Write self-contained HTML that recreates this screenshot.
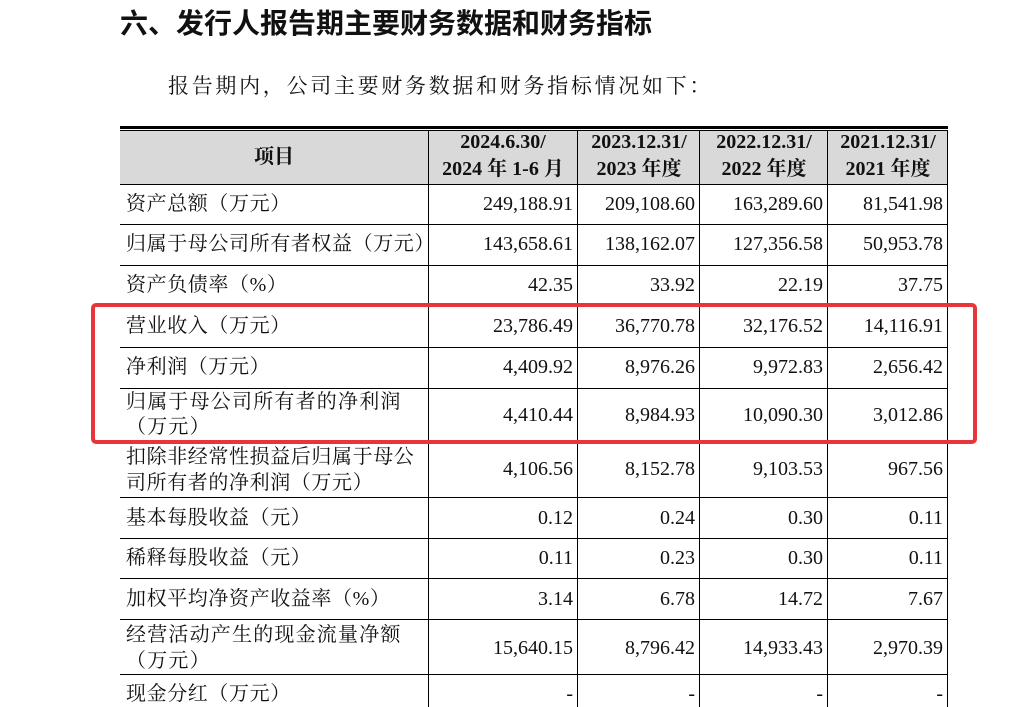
<!DOCTYPE html>
<html><head><meta charset="utf-8"><style>
body{margin:0;width:1023px;height:707px;background:#fff;overflow:hidden;position:relative;font-family:"Liberation Serif","Noto Serif CJK SC",serif;color:#111}
.a{position:absolute;white-space:nowrap}
.h{position:absolute;background:#000}
.v{position:absolute;background:#000;width:1.3px}
.t{font-size:20px;left:126px;line-height:25px;letter-spacing:0.6px}
.n{font-size:20px;line-height:24px;text-align:right}
.hd{font-weight:bold;font-size:20px;line-height:27px;text-align:center}
</style></head><body>
<div class="a" style="left:120px;top:2px;font-size:28px;font-weight:bold;font-family:'Liberation Sans','Noto Sans CJK SC',sans-serif">六、发行人报告期主要财务数据和财务指标</div>
<div class="a" style="left:168px;top:70px;font-size:21px;letter-spacing:2.7px">报告期内，公司主要财务数据和财务指标情况如下：</div>
<div class="a" style="left:120px;top:131px;width:828px;height:53px;background:#d9d9d9"></div>
<div class="h" style="left:120px;top:126px;width:828px;height:3px"></div>
<div class="h" style="left:120px;top:130px;width:828px;height:1.3px"></div>
<div class="h" style="left:120px;top:184px;width:828px;height:1.3px"></div>
<div class="h" style="left:120px;top:224px;width:828px;height:1.3px"></div>
<div class="h" style="left:120px;top:265px;width:828px;height:1.3px"></div>
<div class="h" style="left:120px;top:306px;width:828px;height:1.3px"></div>
<div class="h" style="left:120px;top:347px;width:828px;height:1.3px"></div>
<div class="h" style="left:120px;top:388px;width:828px;height:1.3px"></div>
<div class="h" style="left:120px;top:440px;width:828px;height:1.3px"></div>
<div class="h" style="left:120px;top:497px;width:828px;height:1.3px"></div>
<div class="h" style="left:120px;top:538px;width:828px;height:1.3px"></div>
<div class="h" style="left:120px;top:578px;width:828px;height:1.3px"></div>
<div class="h" style="left:120px;top:619px;width:828px;height:1.3px"></div>
<div class="h" style="left:120px;top:674px;width:828px;height:1.3px"></div>
<div class="v" style="left:428px;top:131px;height:576px"></div>
<div class="v" style="left:577px;top:131px;height:576px"></div>
<div class="v" style="left:699px;top:131px;height:576px"></div>
<div class="v" style="left:827px;top:131px;height:576px"></div>
<div class="v" style="left:947px;top:131px;height:576px"></div>
<div class="a hd" style="left:120px;top:144px;width:308px">项目</div>
<div class="a hd" style="left:428px;top:129px;width:150px">2024.6.30/<br>2024 年 1-6 月</div>
<div class="a hd" style="left:578px;top:129px;width:122px">2023.12.31/<br>2023 年度</div>
<div class="a hd" style="left:700px;top:129px;width:128px">2022.12.31/<br>2022 年度</div>
<div class="a hd" style="left:828px;top:129px;width:120px">2021.12.31/<br>2021 年度</div>

<div class="a t" style="top:192px">资产总额（万元）</div>
<div class="a t" style="top:232px">归属于母公司所有者权益（万元）</div>
<div class="a t" style="top:273px">资产负债率（%）</div>
<div class="a t" style="top:314px">营业收入（万元）</div>
<div class="a t" style="top:355px">净利润（万元）</div>
<div class="a t" style="top:390px;line-height:25px;letter-spacing:1.2px">归属于母公司所有者的净利润<br>（万元）</div>
<div class="a t" style="top:444px;line-height:26px">扣除非经常性损益后归属于母公<br>司所有者的净利润（万元）</div>
<div class="a t" style="top:506px">基本每股收益（元）</div>
<div class="a t" style="top:546px">稀释每股收益（元）</div>
<div class="a t" style="top:587px">加权平均净资产收益率（%）</div>
<div class="a t" style="top:622px;line-height:26px;letter-spacing:1.2px">经营活动产生的现金流量净额<br>（万元）</div>
<div class="a t" style="top:682px">现金分红（万元）</div>

<div id="nums"></div>
<script>
var rows=[[192,"249,188.91","209,108.60","163,289.60","81,541.98"],[232,"143,658.61","138,162.07","127,356.58","50,953.78"],[273,"42.35","33.92","22.19","37.75"],[314,"23,786.49","36,770.78","32,176.52","14,116.91"],[355,"4,409.92","8,976.26","9,972.83","2,656.42"],[403,"4,410.44","8,984.93","10,090.30","3,012.86"],[457,"4,106.56","8,152.78","9,103.53","967.56"],[506,"0.12","0.24","0.30","0.11"],[546,"0.11","0.23","0.30","0.11"],[587,"3.14","6.78","14.72","7.67"],[636,"15,640.15","8,796.42","14,933.43","2,970.39"],[682,"-","-","-","-"]];
var R=[573,695,823,943],h="";
rows.forEach(function(r){for(var i=0;i<4;i++)h+='<div class="a n" style="top:'+r[0]+'px;left:'+(R[i]-140)+'px;width:140px">'+r[i+1]+'</div>';});
document.getElementById("nums").innerHTML=h;
</script>
<div class="a" style="left:91px;top:303px;width:878px;height:133px;border:4px solid #e8353a;border-radius:5px"></div>
</body></html>
